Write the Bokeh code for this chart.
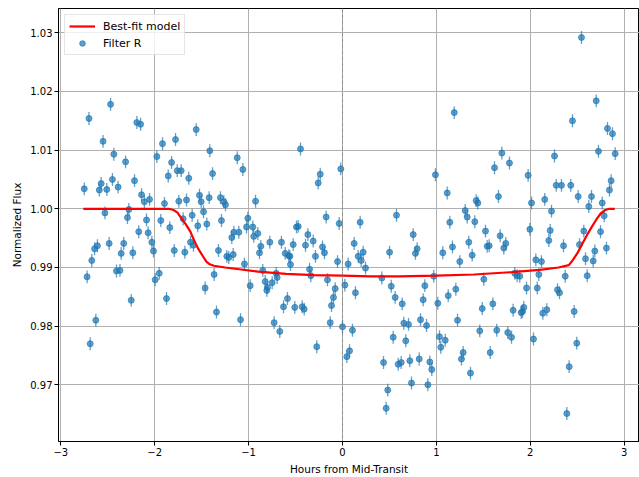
import math
from bokeh.plotting import figure
from bokeh.models import Range1d, Span, Legend, LegendItem, FixedTicker, CDSView, IndexFilter, ColumnDataSource
from bokeh.embed import file_html
from bokeh.resources import INLINE

# ---- data ----
time_hours = [
    -2.75, -2.72, -2.70, -2.687, -2.67, -2.64, -2.627, -2.61, -2.59, -2.57,
    -2.55, -2.53, -2.51, -2.485, -2.47, -2.45, -2.435, -2.407, -2.39, -2.37,
    -2.357, -2.33, -2.31, -2.29, -2.275, -2.25, -2.233, -2.215, -2.19, -2.17,
    -2.15, -2.14, -2.11, -2.087, -2.07, -2.055, -2.03, -2.013, -1.995, -1.977,
    -1.952, -1.935, -1.917, -1.896, -1.874, -1.856, -1.839, -1.82, -1.792, -1.778,
    -1.76, -1.743, -1.718, -1.697, -1.679, -1.661, -1.637, -1.619, -1.601, -1.587,
    -1.558, -1.541, -1.523, -1.505, -1.48, -1.463, -1.445, -1.42, -1.413, -1.384,
    -1.367, -1.342, -1.321, -1.30, -1.289, -1.264, -1.246, -1.232, -1.211, -1.179,
    -1.164, -1.157, -1.121, -1.104, -1.086, -1.061, -1.044, -1.022, -1.008, -0.983,
    -0.955, -0.945, -0.926, -0.902, -0.884, -0.870, -0.849, -0.823, -0.806, -0.799,
    -0.774, -0.749, -0.728, -0.706, -0.696, -0.668, -0.650, -0.628, -0.610, -0.586,
    -0.572, -0.561, -0.554, -0.525, -0.508, -0.490, -0.472, -0.447, -0.429, -0.408,
    -0.394, -0.369, -0.351, -0.337, -0.312, -0.288, -0.274, -0.259, -0.237, -0.213,
    -0.192, -0.174, -0.160, -0.131, -0.117, -0.096, -0.078, -0.053, -0.035, -0.018,
    0.0, 0.025, 0.046, 0.060, 0.075, 0.106, 0.124, 0.138, 0.167, 0.188,
    0.199, 0.220, 0.245, 0.419, 0.437, 0.465, 0.482, 0.501, 0.519, 0.540,
    0.561, 0.575, 0.593, 0.625, 0.636, 0.653, 0.674, 0.703, 0.717, 0.735,
    0.753, 0.777, 0.795, 0.817, 0.831, 0.859, 0.877, 0.895, 0.909, 0.930,
    0.951, 0.972, 0.990, 1.015, 1.033, 1.047, 1.068, 1.094, 1.115, 1.126,
    1.143, 1.171, 1.190, 1.207, 1.225, 1.249, 1.267, 1.285, 1.307, 1.328,
    1.345, 1.363, 1.381, 1.409, 1.424, 1.441, 1.462, 1.488, 1.505, 1.523,
    1.541, 1.562, 1.573, 1.601, 1.619, 1.643, 1.661, 1.679, 1.697, 1.718,
    1.739, 1.760, 1.778, 1.800, 1.817, 1.835, 1.860, 1.888, 1.903, 1.917,
    1.931, 1.960, 1.977, 1.995, 2.013, 2.034, 2.059, 2.074, 2.091, 2.119,
    2.133, 2.154, 2.176, 2.197, 2.212, 2.226, 2.258, 2.276, 2.290, 2.311,
    2.332, 2.354, 2.372, 2.389, 2.414, 2.431, 2.449, 2.467, 2.495, 2.510,
    2.524, 2.545, 2.570, 2.588, 2.606, 2.623, 2.652, 2.670, 2.687, 2.702,
    2.726, 2.748, 2.766, 2.787, 2.811, 2.822, 2.843, 2.861, 2.875, 2.904,
]
flux_values = [
    1.0034, 0.9884, 1.0154, 0.9770, 0.9912, 0.9932, 0.9810, 0.9937, 1.0032, 1.0043,
    1.0115, 0.9993, 1.0033, 0.9941, 1.0178, 1.0050, 1.0093, 0.9894, 1.0037, 0.9895,
    0.9924, 0.9941, 1.0080, 0.9985, 0.9999, 0.9844, 0.9925, 1.0048, 1.0147, 0.9961,
    1.0144, 1.0024, 1.0012, 0.9981, 0.9959, 1.0016, 0.9943, 0.9928, 0.9879, 1.0089,
    0.9890, 0.9980, 1.0111, 1.0009, 0.9847, 1.0056, 0.9968, 1.0079, 0.9929, 1.0118,
    1.0065, 1.0013, 1.0065, 0.9983, 0.9926, 1.0015, 1.0052, 0.9943, 0.9989, 0.9938,
    1.0135, 0.9971, 1.0023, 1.0012, 0.9995, 0.9865, 0.9974, 1.0019, 1.0099, 1.0060,
    0.9888, 0.9824, 0.9929, 1.0019, 0.9980, 1.0012, 1.0007, 0.9919, 0.9917, 0.9951,
    0.9922, 0.9960, 1.0087, 0.9960, 0.9811, 1.0067, 0.9906, 0.9969, 0.9984, 0.9869,
    0.9969, 0.9953, 1.0013, 0.9958, 0.9925, 0.9936, 0.9895, 0.9876, 0.9861, 0.9866,
    0.9943, 0.9874, 0.9806, 0.9890, 0.9883, 0.9791, 0.9943, 0.9833, 0.9924, 0.9847,
    0.9920, 0.9919, 0.9905, 0.9939, 0.9832, 0.9969, 0.9970, 1.0102, 0.9833, 0.9829,
    0.9938, 0.9956, 0.9897, 0.9886, 0.9945, 0.9919, 0.9765, 1.0044, 1.0059, 0.9935,
    0.9925, 0.9986, 0.9879, 0.9806, 0.9835, 0.9849, 0.9864, 0.9910, 0.9975, 1.0068,
    0.9799, 0.9870, 0.9748, 0.9906, 0.9758, 0.9793, 0.9941, 0.9857, 0.9919, 0.9977,
    0.9912, 0.9926, 0.9899, 0.9882, 0.9738, 0.9660, 0.9691, 0.9926, 0.9868, 0.9781,
    0.9849, 0.9989, 0.9735, 0.9738, 0.9838, 0.9805, 0.9775, 0.9803, 0.9741, 0.9703,
    0.9956, 0.9924, 0.9932, 0.9744, 0.9811, 0.9845, 0.9869, 0.9801, 0.9700, 0.9739,
    0.9726, 0.9885, 1.0058, 0.9839, 0.9782, 0.9764, 0.9925, 0.9776, 1.0027, 0.9852,
    0.9977, 0.9935, 1.0164, 0.9863, 0.9810, 0.9910, 0.9744, 0.9755, 0.9997, 0.9986,
    0.9943, 0.9720, 0.9921, 0.9978, 1.0014, 1.0010, 0.9792, 0.9830, 0.9880, 0.9962,
    0.9936, 0.9937, 0.9755, 0.9838, 1.0070, 0.9793, 1.0021, 0.9954, 1.0095, 0.9933,
    0.9941, 0.9789, 1.0078, 0.9781, 0.9827, 0.9890, 0.9886, 0.9885, 0.9823, 0.9825,
    0.9832, 0.9865, 1.0057, 0.9965, 1.0010, 0.9778, 0.9913, 0.9865, 0.9888, 0.9910,
    0.9822, 1.0016, 0.9828, 0.9946, 0.9963, 0.9996, 1.0090, 1.0040, 0.9862, 0.9857,
    1.0040, 0.9937, 0.9885, 0.9651, 0.9731, 1.0040, 1.0150, 0.9825, 0.9771, 1.0021,
    0.9939, 1.0292, 0.9962, 0.9915, 0.9886, 1.0004, 1.0021, 0.9911, 0.9928, 1.0184,
    1.0098, 0.9961, 1.0010, 0.9988, 0.9933, 1.0137, 1.0032, 1.0048, 1.0128, 1.0094,
]
flux_error = 0.0011

model_time = [-2.76, -1.85, -1.80, -1.76, -1.72, -1.67, -1.62, -1.58, -1.54, -1.49,
              -1.45, -1.42, -1.37, -1.25, -1.10, -0.90, -0.60, -0.30, 0.0, 0.3,
              0.6, 1.0, 1.4, 1.8, 2.1, 2.3, 2.41, 2.45, 2.50, 2.55,
              2.60, 2.65, 2.70, 2.75, 2.80, 2.84, 2.90]
model_flux = [1.0000, 1.0000, 0.9998, 0.9994, 0.9985, 0.9974, 0.9961, 0.9946, 0.9933, 0.9920,
              0.9910, 0.9906, 0.9903, 0.9900, 0.9897, 0.9893, 0.9889, 0.9887, 0.9886, 0.9885,
              0.9885, 0.9886, 0.9888, 0.9892, 0.9896, 0.9900, 0.9904, 0.9912, 0.9924, 0.9939,
              0.9954, 0.9968, 0.9981, 0.9992, 0.9998, 1.0000, 1.0000]

x_ticks = [-3, -2, -1, 0, 1, 2, 3]
x_tick_labels = ["\u22123", "\u22122", "\u22121", "0", "1", "2", "3"]
y_ticks = [0.97, 0.98, 0.99, 1.00, 1.01, 1.02, 1.03]
y_tick_labels = ["0.97", "0.98", "0.99", "1.00", "1.01", "1.02", "1.03"]

FONT = "DejaVu Sans"
BLUE = "#1f77b4"

p = figure(width=639, height=477, output_backend="svg", toolbar_location=None,
           x_range=Range1d(-3.0245, 3.163), y_range=Range1d(0.96034, 1.03414),
           min_border_left=58, min_border_right=0, min_border_top=8, min_border_bottom=36)
p.background_fill_color = "white"
p.border_fill_color = "white"
p.outline_line_color = "black"
p.outline_line_width = 1

# grid
p.xgrid.grid_line_color = "#b0b0b0"
p.ygrid.grid_line_color = "#b0b0b0"
p.xgrid.grid_line_width = 1
p.ygrid.grid_line_width = 1

# axes
p.xaxis.ticker = FixedTicker(ticks=x_ticks)
p.yaxis.ticker = FixedTicker(ticks=y_ticks)
p.xaxis.major_label_overrides = {t: l for t, l in zip(x_ticks, x_tick_labels)}
p.yaxis.major_label_overrides = {t: l for t, l in zip(y_ticks, y_tick_labels)}
for ax in (p.xaxis[0], p.yaxis[0]):
    ax.axis_line_color = "black"
    ax.major_tick_line_color = "black"
    ax.major_tick_in = 0
    ax.major_tick_out = 4
    ax.minor_tick_line_color = None
    ax.major_label_text_font = FONT
    ax.major_label_text_font_size = "10px"
    ax.major_label_text_color = "black"
    ax.major_label_standoff = 2
    ax.axis_label_text_font = FONT
    ax.axis_label_text_font_size = "10.5px"
    ax.axis_label_text_font_style = "normal"
    ax.axis_label_text_color = "black"
    ax.axis_label_standoff = 4
p.xaxis.axis_label = "Hours from Mid-Transit"
p.yaxis.axis_label = "Normalized Flux"

# vertical reference line at mid-transit
p.add_layout(Span(location=0, dimension="height", line_color="gray",
                  line_dash="4 2", line_width=1, line_alpha=0.7))

# error bars
lower = [f - flux_error for f in flux_values]
upper = [f + flux_error for f in flux_values]
p.segment(x0=time_hours, y0=lower, x1=time_hours, y1=upper,
          line_color=BLUE, line_alpha=0.7, line_width=1.3)
src = ColumnDataSource(data=dict(t=time_hours, f=flux_values))
pts = p.scatter("t", "f", source=src, size=6, marker="circle",
                fill_color=BLUE, line_color=BLUE, fill_alpha=0.7, line_alpha=0.7)
# legend-only glyph for the error bar (draws nothing on the plot)
proxy = p.scatter("t", "f", source=src, view=CDSView(filter=IndexFilter(indices=[])),
                  marker="dash", angle=math.pi / 2, size=11,
                  line_color=BLUE, line_alpha=0.7, line_width=1.3)

model = p.line(model_time, model_flux, line_color="red", line_width=2.2)

legend = Legend(items=[LegendItem(label="Best-fit model", renderers=[model]),
                       LegendItem(label="Filter R", renderers=[proxy, pts])],
                location="top_left")
legend.label_text_font = FONT
legend.label_text_font_size = "11px"
legend.label_text_color = "black"
legend.glyph_width = 26
legend.glyph_height = 14
legend.label_height = 14
legend.label_standoff = 8
legend.padding = 4
legend.spacing = 3
legend.margin = 6
legend.border_line_color = "#cccccc"
legend.border_line_width = 1
legend.background_fill_alpha = 0.8
p.add_layout(legend)

open("out.html", "w").write(file_html(p, INLINE))
